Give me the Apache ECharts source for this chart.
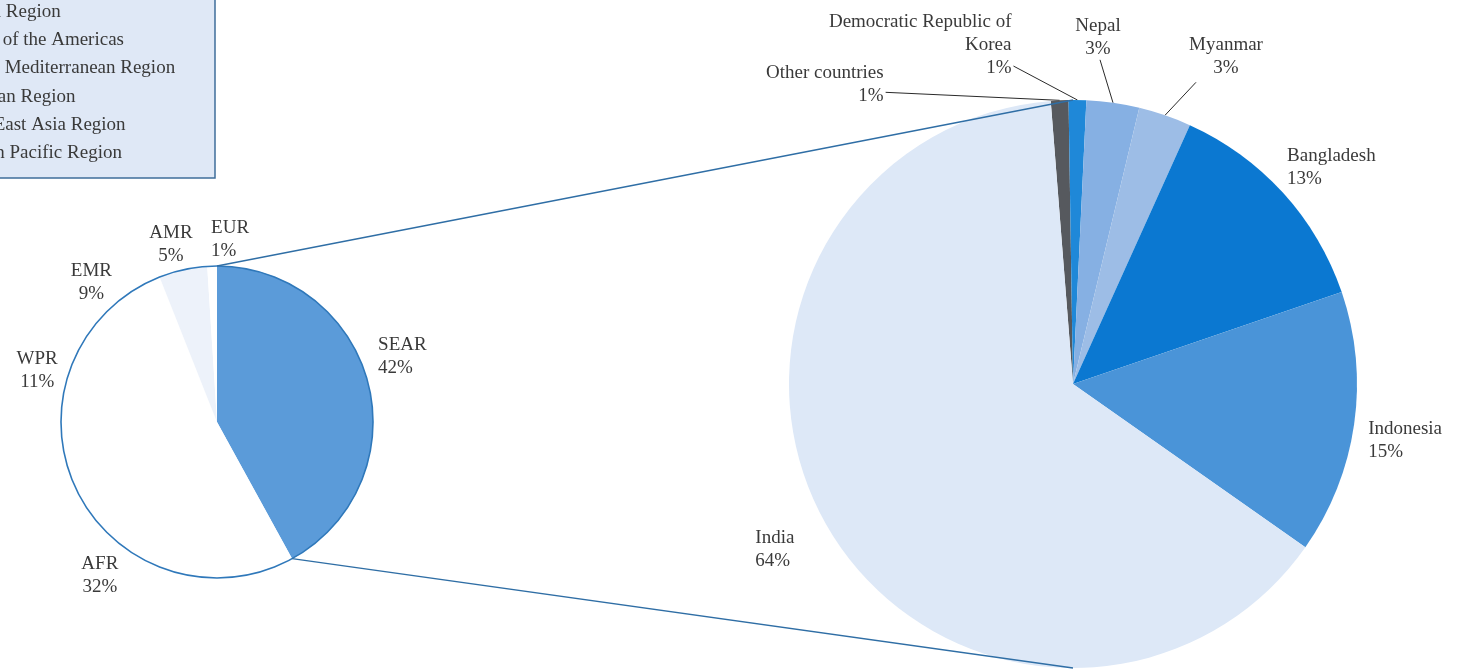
<!DOCTYPE html>
<html>
<head>
<meta charset="utf-8">
<script src="https://cdn.jsdelivr.net/npm/echarts@6/dist/echarts.min.js"></script>
<style>
  html, body { margin: 0; padding: 0; background: #ffffff; }
  #chart { width: 1458px; height: 670px; }
</style>
</head>
<body>
<div id="chart"></div>
<script>
// ---- data ----
// Share of cases by WHO region (left pie), clockwise from 12 o'clock
const regionCodes = ['SEAR', 'AFR', 'WPR', 'EMR', 'AMR', 'EUR'];
const regionShares = [42, 32, 11, 9, 5, 1];
// Legend entries (top-left box)
const legendLines = [
  'African Region',
  'Region of the Americas',
  'Eastern Mediterranean Region',
  'European Region',
  'South-East Asia Region',
  'Western Pacific Region'
];
// Breakdown of the South-East Asia Region by country (right pie)
const countries = ['Other countries', 'Democratic Republic of\nKorea', 'Nepal', 'Myanmar', 'Bangladesh', 'Indonesia', 'India'];
const countryShares = [1, 1, 3, 3, 13, 15, 64];

// ---- styles ----
const regionColors = ['#5b9bd9', '#ffffff', '#ffffff', '#ffffff', '#edf2fa', '#ffffff'];
const countryColors = ['#56595e', '#1f88d8', '#86b0e3', '#9dbde6', '#0b78d1', '#4a94d8', '#dde8f7'];
const FONT = '"Liberation Serif", "Times New Roman", serif';
const TEXT = '#3a3a3a';
const OUTLINE = '#2f78ba';
const CONNECTOR = '#2f6ea5';

// Label placement: offsets from the point on the rim at each slice's mid-angle.
// lx/ly (optional) give the far end of a leader line.
const regionLabelPlace = [
  { dx: 10, dy: -27, align: 'left' },    // SEAR
  { dx: -42, dy: 17, align: 'center' },  // AFR
  { dx: -30, dy: -8, align: 'center' },  // WPR
  { dx: -30, dy: -16, align: 'center' }, // EMR
  { dx: -12, dy: -25, align: 'center' }, // AMR
  { dx: -1, dy: -27, align: 'left' }     // EUR
];
const countryLabelPlace = [
  { dx: -176, dy: -16, align: 'right', lx: -174, ly: -8 },  // Other countries
  { dx: -66, dy: -55, align: 'right', lx: -64, ly: -34 },   // DPR Korea
  { dx: -15, dy: -65, align: 'center', lx: -13, ly: -43 },  // Nepal
  { dx: 61, dy: -59, align: 'center', lx: 31, ly: -33 },    // Myanmar
  { dx: 4, dy: -25, align: 'left' },                        // Bangladesh
  { dx: 14, dy: 16, align: 'left' },                        // Indonesia
  { dx: -71, dy: 25, align: 'left' }                        // India
];

const chart = echarts.init(document.getElementById('chart'), null, { renderer: 'canvas' });

function rimPoint(lay, angle) {
  return [lay.cx + lay.r * Math.cos(angle), lay.cy + lay.r * Math.sin(angle)];
}

function labelPlacer(places) {
  return function (params) {
    const data = chart.getModel().getSeriesByIndex(params.seriesIndex).getData();
    const lay = data.getItemLayout(params.dataIndex);
    const p0 = rimPoint(lay, (lay.startAngle + lay.endAngle) / 2);
    const pl = places[params.dataIndex];
    const out = { x: p0[0] + pl.dx, y: p0[1] + pl.dy, align: pl.align, verticalAlign: 'middle' };
    if (pl.lx != null) {
      const end = [p0[0] + pl.lx, p0[1] + pl.ly];
      out.labelLinePoints = [p0, end, end];
    }
    return out;
  };
}

const labelText = { fontFamily: FONT, fontSize: 19, color: TEXT, lineHeight: 23 };

const option = {
  backgroundColor: '#ffffff',
  animation: false,
  series: [
    {
      type: 'pie',
      name: 'Regions',
      center: [217, 422],
      radius: 156,
      startAngle: 90,
      clockwise: true,
      avoidLabelOverlap: false,
      silent: true,
      itemStyle: { borderWidth: 0 },
      label: {
        show: true,
        position: 'outside',
        ...labelText,
        formatter: p => regionCodes[p.dataIndex] + '\n' + p.value + '%'
      },
      labelLine: { show: false },
      labelLayout: labelPlacer(regionLabelPlace),
      data: regionCodes.map((c, i) => ({
        name: c,
        value: regionShares[i],
        itemStyle: { color: regionColors[i] }
      }))
    },
    {
      type: 'pie',
      name: 'South-East Asia Region',
      center: [1073, 384],
      radius: 284,
      startAngle: 94.5,
      clockwise: true,
      avoidLabelOverlap: false,
      silent: true,
      itemStyle: { borderWidth: 0 },
      label: {
        show: true,
        position: 'outside',
        ...labelText,
        formatter: p => p.name + '\n' + p.value + '%'
      },
      labelLine: { show: false },
      labelLayout: labelPlacer(countryLabelPlace),
      data: countries.map((c, i) => ({
        name: c,
        value: countryShares[i],
        itemStyle: { color: countryColors[i] },
        labelLine: countryLabelPlace[i].lx != null
          ? { show: true, lineStyle: { color: '#2a2a2a', width: 1 } }
          : { show: false }
      }))
    }
  ]
};

chart.setOption(option);

// Outline of the regional pie and the two connectors to the country pie,
// taken from the laid-out slices.
const model = chart.getModel();
const smallData = model.getSeriesByIndex(0).getData();
const bigData = model.getSeriesByIndex(1).getData();
const sear = smallData.getItemLayout(0);
const big = bigData.getItemLayout(0);
const a = rimPoint(sear, sear.startAngle);
const b = rimPoint(sear, sear.endAngle);

// Legend box in the top-left corner; it runs past the left and top edges.
const legendElements = [
  {
    type: 'rect',
    z: 20,
    silent: true,
    shape: { x: -20, y: -20, width: 235, height: 198 },
    style: { fill: '#dfe8f6', stroke: '#3f6d9b', lineWidth: 1.5 }
  }
].concat(legendLines.map((t, i) => ({
  type: 'text',
  z: 21,
  silent: true,
  x: -57,
  y: 12 + i * 28.2,
  style: {
    text: t,
    font: '19px ' + FONT,
    fill: TEXT,
    align: 'left',
    verticalAlign: 'middle'
  }
})));

chart.setOption({
  graphic: [
    {
      type: 'circle',
      z: 10,
      silent: true,
      shape: { cx: sear.cx, cy: sear.cy, r: sear.r },
      style: { fill: 'none', stroke: OUTLINE, lineWidth: 1.6 }
    },
    {
      type: 'line',
      z: 10,
      silent: true,
      shape: { x1: a[0], y1: a[1], x2: big.cx, y2: big.cy - big.r },
      style: { stroke: CONNECTOR, lineWidth: 1.3 }
    },
    {
      type: 'line',
      z: 10,
      silent: true,
      shape: { x1: b[0], y1: b[1], x2: big.cx, y2: big.cy + big.r },
      style: { stroke: CONNECTOR, lineWidth: 1.3 }
    }
  ].concat(legendElements)
});
</script>
</body>
</html>
